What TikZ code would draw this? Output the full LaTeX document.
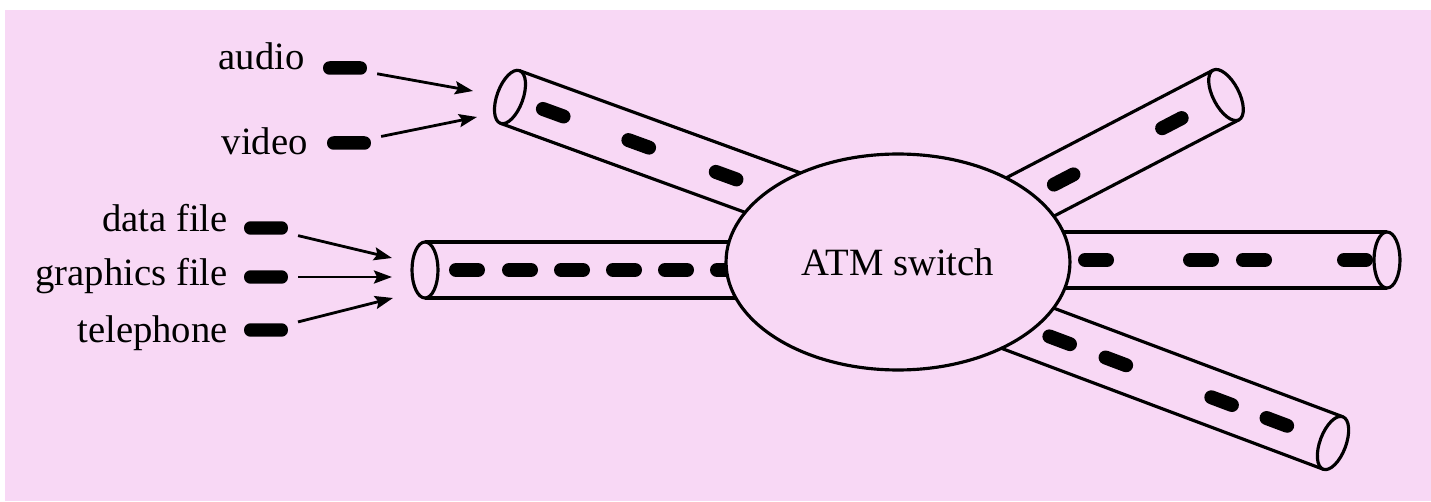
\documentclass[tikz,border=0pt]{standalone}
\usepackage{fontspec}
\setmainfont{Liberation Serif}
\usetikzlibrary{shapes.geometric, arrows.meta, positioning}

\definecolor{bgpink}{RGB}{248,216,245}

\tikzset{
    tubeline/.style = {line width=1.8pt},
    cell/.style = {line width=0.28cm, line cap=round},
    packet/.style = {fill=black, rounded corners=0.13cm, minimum width=0.88cm,
        minimum height=0.27cm, inner sep=0pt},
    source/.style = {font=\fontsize{22}{26}\selectfont, inner sep=0pt, anchor=base east},
    feed/.style = {line width=1.6pt, shorten <=0.2cm,
        -{Stealth[length=0.36cm, width=0.26cm, inset=0.06cm]}},
}

% #1 open end, #2 angle towards the switch, #3 length, #4 cells along the tube
\newcommand{\drawtube}[4]{%
    \begin{scope}[shift={#1}, rotate=#2]
        \draw[tubeline] (0,28) -- (#3,28) (0,-28) -- (#3,-28);
        \foreach \d in {#4}
        \draw[cell] (\d-11,0) -- (\d+11,0);
        \draw[tubeline, fill=bgpink] (0,0) ellipse [x radius=13, y radius=28];
    \end{scope}}

\begin{document}
\begin{tikzpicture}[x=0.02cm, y=0.02cm]
    \fill[white] (0,0) rectangle (1431,501);
    \fill[bgpink] (5,0) rectangle (1431,491);

    % tubes
    \drawtube{(425,231)}{0}{340}{42, 95, 147, 199, 251, 303}
    \drawtube{(510,404)}{-20}{340}{46, 137, 230}
    \drawtube{(1226,406)}{207.5}{260}{61, 183}
    \drawtube{(1387,241)}{180}{360}{32, 133, 186, 291}
    \drawtube{(1333,58)}{159.4}{380}{60, 119, 232, 292}

    % switch
    \node[ellipse, draw, tubeline, fill=bgpink, minimum width=6.88cm,
        minimum height=4.32cm, font=\fontsize{22}{26}\selectfont] (atm) at (898,239) {ATM switch};

    % sources
    \node[packet] (audiopkt) at (345,433) {};
    \node[source] (audio) at (305,431) {audio};
    \node[packet] (videopkt) at (349,358) {};
    \node[source] (video) at (308,346) {video};
    \node[packet] (datapkt) at (266,273) {};
    \node[source] (data) at (228,269) {data file};
    \node[packet] (graphpkt) at (266,224) {};
    \node[source] (graph) at (228,215) {graphics file};
    \node[packet] (phonepkt) at (266,171) {};
    \node[source] (phone) at (228,158) {telephone};

    \coordinate (audioin) at (473,410);
    \coordinate (videoin) at (477,384);
    \coordinate (datain) at (392,243);
    \coordinate (graphin) at (392,224);
    \coordinate (phonein) at (393,203);

    \draw[feed] (audiopkt) -- (audioin);
    \draw[feed] (videopkt) -- (videoin);
    \draw[feed] (datapkt) -- (datain);
    \draw[feed] (graphpkt) -- (graphin);
    \draw[feed] (phonepkt) -- (phonein);
\end{tikzpicture}
\end{document}
